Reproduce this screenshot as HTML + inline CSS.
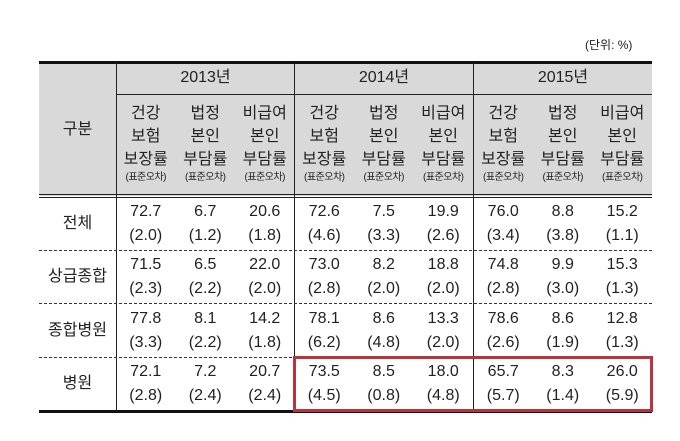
<!DOCTYPE html>
<html><head><meta charset="utf-8"><style>
body{margin:0;width:680px;height:441px;background:#fff;position:relative;font-family:"Liberation Sans","Noto Sans CJK KR",sans-serif;color:#222;overflow:hidden}
.a{position:absolute}
.c{position:absolute;text-align:center;font-size:16px;line-height:24px}
.s{font-size:10px;line-height:14px;display:block;letter-spacing:-0.5px}
</style></head><body>
<div class="a" style="left:585px;top:36px;font-size:12px">(단위: %)</div>
<div class="a" style="left:39px;top:63px;width:613px;height:133px;background:#d9d9d9"></div>
<div class="a" style="left:39px;top:61px;width:613px;height:3px;background:#111"></div>
<div class="a" style="left:39px;top:410px;width:613px;height:3px;background:#111"></div>
<div class="a" style="left:39px;top:194px;width:613px;height:4px;border-top:1px solid #222;border-bottom:1px solid #222;box-sizing:border-box"></div>
<div class="a" style="left:116px;top:94px;width:536px;height:1px;background:#222"></div>
<div class="a" style="left:116px;top:63px;width:1px;height:348px;background:#222"></div>
<div class="a" style="left:294px;top:63px;width:1px;height:348px;background:#222"></div>
<div class="a" style="left:473px;top:63px;width:1px;height:348px;background:#222"></div>
<div class="a" style="left:39px;top:250px;width:613px;height:0;border-top:1px dashed #333"></div>
<div class="a" style="left:39px;top:303px;width:613px;height:0;border-top:1px dashed #333"></div>
<div class="a" style="left:39px;top:357px;width:613px;height:0;border-top:1px dashed #333"></div>
<div class="c" style="left:39px;top:118px;width:77px">구분</div>
<div id="t"></div>
<div class="a" style="left:293px;top:356px;width:360px;height:56px;border:3px solid #b5363c;box-sizing:border-box"></div>
<script>
const years=["2013년","2014년","2015년"];
const rows=["전체","상급종합","종합병원","병원"];
const vals=[
[["72.7","6.7","20.6","72.6","7.5","19.9","76.0","8.8","15.2"],["2.0","1.2","1.8","4.6","3.3","2.6","3.4","3.8","1.1"]],
[["71.5","6.5","22.0","73.0","8.2","18.8","74.8","9.9","15.3"],["2.3","2.2","2.0","2.8","2.0","2.0","2.8","3.0","1.3"]],
[["77.8","8.1","14.2","78.1","8.6","13.3","78.6","8.6","12.8"],["3.3","2.2","1.8","6.2","4.8","2.0","2.6","1.9","1.3"]],
[["72.1","7.2","20.7","73.5","8.5","18.0","65.7","8.3","26.0"],["2.8","2.4","2.4","4.5","0.8","4.8","5.7","1.4","5.9"]]];
const subs=["건강<br>보험<br>보장률","법정<br>본인<br>부담률","비급여<br>본인<br>부담률"];
const t=document.getElementById('t');
const yx=[116,294.5,473.5],cw=59.5;
years.forEach((y,i)=>{
 const d=document.createElement('div');d.className='c';
 
 
 d.style.cssText=`left:${yx[i]}px;top:66px;width:179px`;d.textContent=y;t.appendChild(d);
 subs.forEach((s,j)=>{
  const e=document.createElement('div');e.className='c';
  
  
  e.style.cssText=`left:${yx[i]+j*cw}px;top:102px;width:${cw}px;line-height:23px`;
  e.innerHTML=s+'<span class="s">(표준오차)</span>';t.appendChild(e);
 });
});
const ry=[197,250,304,357];
rows.forEach((r,k)=>{
 const d=document.createElement('div');d.className='c';
 
 
 d.style.cssText=`left:39px;top:${ry[k]+15}px;width:77px`;d.textContent=r;t.appendChild(d);
 for(let m=0;m<9;m++){
  const i=Math.floor(m/3),j=m%3;
  const e=document.createElement('div');e.className='c';
  
  
  e.style.cssText=`left:${yx[i]+j*cw}px;top:${ry[k]+3}px;width:${cw}px`;
  e.innerHTML=vals[k][0][m]+'<br>('+vals[k][1][m]+')';t.appendChild(e);
 }
});
</script>
</body></html>
